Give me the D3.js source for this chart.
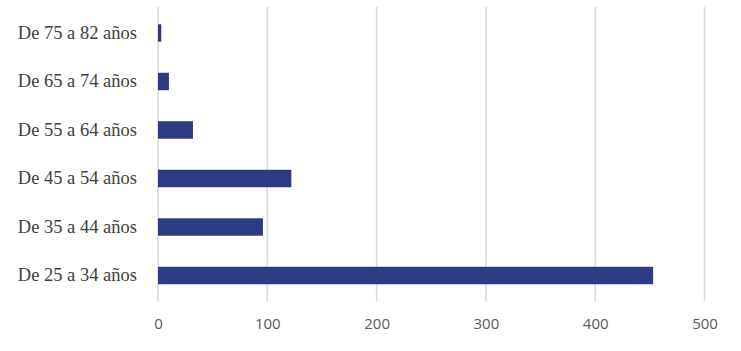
<!DOCTYPE html>
<html>
<head>
<meta charset="utf-8">
<script src="https://cdn.jsdelivr.net/npm/d3@7"></script>
<style>
  body { margin: 0; background: #fff; }
  .cat text { font-family: "Liberation Serif", "DejaVu Serif", serif; font-size: 18.5px; fill: #404040; }
  .xax text { font-family: "Open Sans", "Lato", sans-serif; font-size: 15px; fill: #595959; }
</style>
</head>
<body>
<div id="chart"></div>
<script>
// age groups, bottom to top as in the picture
var categories = ["De 25 a 34 años", "De 35 a 44 años", "De 45 a 54 años",
                  "De 55 a 64 años", "De 65 a 74 años", "De 75 a 82 años"];
var values = [453, 96, 122, 32, 10, 3];
var ticks = [0, 100, 200, 300, 400, 500];

var width = 741,
    height = 351;

var x = d3.scaleLinear()
    .domain([0, 500])
    .range([158, 704.5]);

// top category first in the band order
var y = d3.scaleBand()
    .domain(categories.slice().reverse())
    .range([8.75, 299.75])
    .paddingInner(0.64)
    .paddingOuter(0.32);

var svg = d3.select("#chart").append("svg")
    .attr("width", width)
    .attr("height", height);

// vertical gridlines
svg.append("g").selectAll("line")
    .data(ticks)
  .enter().append("line")
    .attr("x1", function(d) { return x(d); })
    .attr("x2", function(d) { return x(d); })
    .attr("y1", 7)
    .attr("y2", 301)
    .style("stroke", "#d9d9d9")
    .style("stroke-width", 1.5);

// bars
svg.append("g").selectAll("rect")
    .data(categories)
  .enter().append("rect")
    .attr("x", x(0))
    .attr("y", function(d) { return y(d); })
    .attr("width", function(d, i) { return x(values[i]) - x(0); })
    .attr("height", y.bandwidth())
    .style("fill", "#2e3b83");

// category labels
var yAxis = d3.axisLeft(y).tickSize(0).tickPadding(21);
svg.append("g")
    .attr("class", "cat")
    .attr("transform", "translate(" + x(0) + ",0)")
    .call(yAxis)
    .call(function(g) { g.select(".domain").remove(); });

// value axis
var xAxis = d3.axisBottom(x).tickValues(ticks).tickSize(0).tickPadding(0);
svg.append("g")
    .attr("class", "xax")
    .attr("transform", "translate(0,318)")
    .call(xAxis)
    .call(function(g) { g.select(".domain").remove(); });
</script>
</body>
</html>
